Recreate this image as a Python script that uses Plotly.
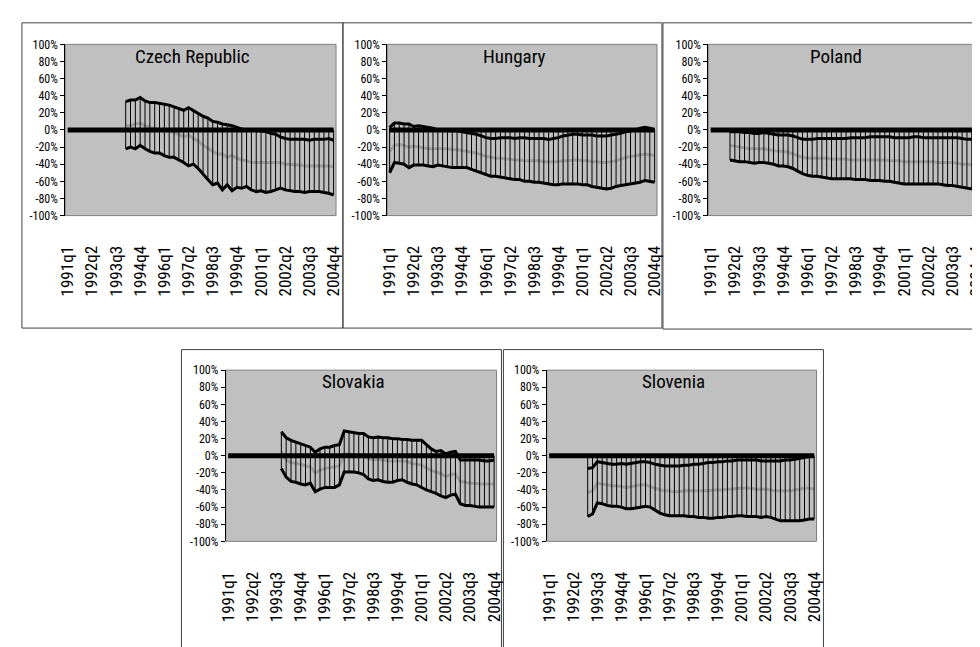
import plotly.graph_objects as go

# ---------------- data ----------------
quarters = [f"{y}q{q}" for y in range(1991, 2005) for q in range(1, 5)]
tick_labels = ["1991q1", "1992q2", "1993q3", "1994q4", "1996q1", "1997q2",
               "1998q3", "1999q4", "2001q1", "2002q2", "2003q3", "2004q4"]
y_tick_vals = [-100, -80, -60, -40, -20, 0, 20, 40, 60, 80, 100]

countries = ["Czech Republic", "Hungary", "Poland", "Slovakia", "Slovenia"]

# first quarter index with data
start_czech = 12
start_hungary = 0
start_poland = 4
start_slovakia = 11
start_slovenia = 8

czech_upper = [33, 35, 35, 38, 34, 32, 32, 31, 30, 29, 27, 25, 23, 26, 23, 19, 16, 14, 10, 9,
               7, 6, 5, 3, 1, 0, 0, -1, -1, -2, -4, -5, -8, -10, -11, -11, -11, -11, -12, -11,
               -11, -11, -10, -12]
czech_middle = [5, 5, 7, 8, 5, 3, 2, 0, 0, -1, -3, -5, -8, -6, -10, -13, -18, -22, -25, -28,
                -28, -32, -30, -33, -35, -36, -38, -38, -38, -38, -38, -38, -38, -40, -40, -41,
                -41, -42, -42, -42, -42, -42, -42, -43]
czech_lower = [-22, -20, -22, -18, -22, -25, -27, -27, -30, -32, -32, -35, -38, -42, -40, -45,
               -52, -58, -64, -62, -70, -64, -71, -67, -68, -66, -70, -72, -71, -73, -72, -70,
               -68, -70, -71, -72, -72, -73, -72, -72, -72, -73, -74, -76]

hungary_upper = [3, 8, 8, 7, 7, 4, 5, 4, 3, 2, 0, 0, -1, -1, -1, -2, -3, -4, -5, -7, -9, -10,
                 -10, -9, -9, -9, -10, -9, -9, -10, -10, -10, -10, -11, -10, -9, -7, -6, -5,
                 -5, -6, -6, -6, -7, -7, -7, -6, -5, -4, -2, -1, 0, 2, 3, 2, 0]
hungary_middle = [-25, -18, -17, -18, -20, -19, -20, -21, -22, -22, -22, -22, -22, -23, -23,
                  -24, -25, -26, -27, -29, -31, -32, -33, -33, -34, -34, -35, -35, -36, -36,
                  -36, -36, -37, -37, -37, -37, -36, -36, -35, -35, -36, -36, -37, -37, -38,
                  -38, -37, -36, -34, -32, -31, -30, -29, -28, -29, -30]
hungary_lower = [-50, -38, -39, -40, -44, -41, -41, -41, -42, -43, -41, -42, -43, -44, -44,
                 -44, -44, -46, -48, -50, -52, -54, -54, -55, -56, -57, -58, -58, -60, -60,
                 -61, -61, -62, -63, -64, -64, -63, -63, -63, -63, -64, -64, -66, -67, -68,
                 -69, -68, -66, -65, -64, -63, -62, -61, -59, -60, -61]

poland_upper = [-2, -2, -2, -3, -3, -4, -4, -3, -4, -5, -6, -6, -6, -7, -9, -11, -11, -11, -10,
                -10, -10, -10, -10, -10, -10, -9, -9, -9, -9, -8, -8, -8, -8, -8, -9, -9, -9,
                -9, -8, -8, -9, -9, -9, -9, -9, -9, -9, -9, -10, -11, -11, -12]
poland_middle = [-18, -19, -20, -21, -22, -22, -22, -22, -23, -24, -25, -25, -26, -28, -30,
                 -32, -33, -33, -33, -33, -33, -34, -34, -34, -34, -35, -35, -35, -35, -35,
                 -35, -35, -35, -36, -36, -36, -37, -37, -37, -37, -37, -37, -37, -38, -38,
                 -38, -38, -39, -40, -40, -41, -42]
poland_lower = [-35, -36, -37, -37, -38, -39, -38, -38, -39, -40, -42, -42, -43, -45, -48, -51,
                -53, -54, -54, -55, -56, -57, -57, -57, -57, -57, -58, -58, -58, -59, -59, -59,
                -60, -60, -61, -62, -63, -63, -63, -63, -63, -63, -63, -63, -64, -65, -65, -66,
                -67, -68, -69, -70]

slovakia_upper = [28, 21, 18, 16, 14, 12, 10, 4, 8, 10, 10, 12, 13, 29, 28, 27, 26, 26, 22,
                  21, 22, 21, 21, 20, 20, 19, 19, 18, 18, 18, 13, 8, 5, 6, 2, 4, 5, -5, -5,
                  -5, -5, -5, -6, -6, -5]
slovakia_middle = [5, -5, -8, -9, -10, -12, -13, -20, -17, -15, -14, -13, -12, 2, 2, 1, 0, -1,
                   -3, -5, -4, -5, -6, -6, -6, -6, -7, -9, -10, -11, -14, -17, -19, -21, -24,
                   -22, -21, -30, -31, -32, -32, -33, -33, -33, -33]
slovakia_lower = [-15, -25, -30, -31, -33, -34, -32, -42, -39, -37, -37, -37, -34, -19, -19,
                  -19, -20, -22, -27, -29, -28, -30, -31, -31, -29, -28, -31, -33, -34, -37,
                  -40, -42, -44, -47, -49, -46, -45, -56, -58, -58, -59, -60, -60, -60, -60]

slovenia_upper = [-15, -14, -7, -8, -9, -10, -10, -9, -10, -9, -8, -7, -7, -8, -10, -11, -12,
                  -12, -12, -12, -11, -11, -10, -10, -9, -8, -8, -7, -7, -6, -6, -5, -5, -5,
                  -5, -5, -6, -6, -6, -6, -6, -5, -5, -4, -3, -2, -1, -1]
slovenia_middle = [-43, -41, -32, -33, -34, -35, -35, -36, -37, -36, -35, -34, -34, -36, -38,
                   -40, -41, -41, -42, -42, -41, -41, -41, -41, -41, -41, -40, -40, -40, -39,
                   -39, -38, -38, -38, -38, -39, -39, -39, -40, -41, -41, -41, -41, -40, -39,
                   -38, -38, -39]
slovenia_lower = [-71, -68, -55, -56, -58, -59, -59, -60, -62, -62, -61, -60, -59, -60, -64,
                  -67, -69, -70, -70, -70, -70, -71, -71, -72, -72, -73, -73, -72, -72, -71,
                  -71, -70, -70, -71, -71, -71, -72, -71, -72, -74, -76, -76, -76, -76, -76,
                  -75, -74, -74]

series = {
    "Czech Republic": (start_czech, czech_upper, czech_middle, czech_lower),
    "Hungary": (start_hungary, hungary_upper, hungary_middle, hungary_lower),
    "Poland": (start_poland, poland_upper, poland_middle, poland_lower),
    "Slovakia": (start_slovakia, slovakia_upper, slovakia_middle, slovakia_lower),
    "Slovenia": (start_slovenia, slovenia_upper, slovenia_middle, slovenia_lower),
}

# ---------------- layout (pixels) ----------------
W, H = 980, 647
# plot areas: (x0, x1, y0_top, y1_bottom)
areas = {
    "Czech Republic": (50, 325, 30, 205),
    "Hungary": (377, 651, 30, 205),
    "Poland": (703, 978, 30, 205),
    "Slovakia": (213, 488, 363, 538),
    "Slovenia": (539, 813, 363, 538),
}
frames = [(6, 332, 8, 320), (332, 656, 8, 320), (657, 1000, 8, 321),
          (168, 493, 342, 700), (495, 820, 342, 700)]

FONT = "Roboto Condensed, DejaVu Sans Condensed, Liberation Sans, Arial, sans-serif"

fig = go.Figure()
layout_axes = {}
shapes = []
annotations = []
xs_all = list(range(len(quarters)))
tick_vals_x = [quarters.index(t) for t in tick_labels]

for k, name in enumerate(countries):
    n = k + 1
    xa = "x" if n == 1 else f"x{n}"
    ya = "y" if n == 1 else f"y{n}"
    start, up, mid, lo = series[name]
    xi = list(range(start, start + len(up)))

    # hi-lo lines (including the zero series)
    hx, hy = [], []
    for i, u, l in zip(xi, up, lo):
        hx += [i, i, None]
        hy += [max(0, u), min(0, l), None]

    fig.add_trace(go.Scatter(x=xi, y=mid, mode="lines", xaxis=xa, yaxis=ya,
                             line=dict(color="#9c9c9c", width=3), showlegend=False,
                             hoverinfo="skip"))
    fig.add_trace(go.Scatter(x=hx, y=hy, mode="lines", xaxis=xa, yaxis=ya,
                             line=dict(color="black", width=1), showlegend=False,
                             hoverinfo="skip"))
    fig.add_trace(go.Scatter(x=xi, y=up, mode="lines", xaxis=xa, yaxis=ya,
                             line=dict(color="black", width=3), showlegend=False))
    fig.add_trace(go.Scatter(x=xi, y=lo, mode="lines", xaxis=xa, yaxis=ya,
                             line=dict(color="black", width=3), showlegend=False))
    fig.add_trace(go.Scatter(x=xs_all, y=[0] * len(xs_all), mode="lines", xaxis=xa, yaxis=ya,
                             line=dict(color="black", width=5), showlegend=False,
                             hoverinfo="skip"))

    x0, x1, yt, yb = areas[name]
    xkey = "xaxis" if n == 1 else f"xaxis{n}"
    ykey = "yaxis" if n == 1 else f"yaxis{n}"
    layout_axes[xkey] = dict(
        domain=[x0 / W, x1 / W], anchor=ya, range=[-0.5, len(quarters) - 0.5],
        tickmode="array", tickvals=tick_vals_x, ticktext=tick_labels, tickangle=-90,
        showgrid=False, zeroline=False, showline=False, ticks="",
        ticklabelstandoff=26,
        tickfont=dict(family=FONT, size=17, color="black"), fixedrange=True)
    layout_axes[ykey] = dict(
        domain=[1 - yb / H, 1 - yt / H], anchor=xa, range=[-100, 100],
        tickmode="array", tickvals=y_tick_vals,
        ticktext=[f"{v}%" for v in y_tick_vals],
        showgrid=False, zeroline=False, showline=True, linecolor="black", linewidth=1,
        ticks="outside", ticklen=4, tickcolor="black", tickwidth=1,
        tickfont=dict(family=FONT, size=12, color="black"), fixedrange=True)

    # gridlines
    for v in [-80, -60, -40, -20, 20, 40, 60, 80]:
        shapes.append(dict(type="line", xref=f"{xa} domain", yref=ya, x0=0, x1=1, y0=v, y1=v,
                           line=dict(color="black", width=1), layer="below"))
    # plot-area background and border
    shapes.append(dict(type="rect", xref="paper", yref="paper",
                       x0=x0 / W, x1=x1 / W, y0=1 - yb / H, y1=1 - yt / H,
                       fillcolor="#c0c0c0", line=dict(color="#7f7f7f", width=1),
                       layer="below"))
    annotations.append(dict(text=name, xref="paper", yref="paper",
                            x=((x0 + x1) / 2 - 8) / W, y=1 - (yt + 12) / H,
                            xanchor="center", yanchor="middle", showarrow=False,
                            font=dict(family=FONT, size=19, color="black")))

for fx0, fx1, fy0, fy1 in frames:
    shapes.append(dict(type="rect", xref="paper", yref="paper",
                       x0=fx0 / W, x1=fx1 / W, y0=1 - fy1 / H, y1=1 - fy0 / H,
                       line=dict(color="#404040", width=1), fillcolor="rgba(0,0,0,0)",
                       layer="below"))

fig.update_layout(width=W, height=H, margin=dict(l=0, r=0, t=0, b=0),
                  paper_bgcolor="white", plot_bgcolor="rgba(0,0,0,0)",
                  shapes=shapes, annotations=annotations, **layout_axes)

fig.write_html("out.html", config={"displayModeBar": False})
